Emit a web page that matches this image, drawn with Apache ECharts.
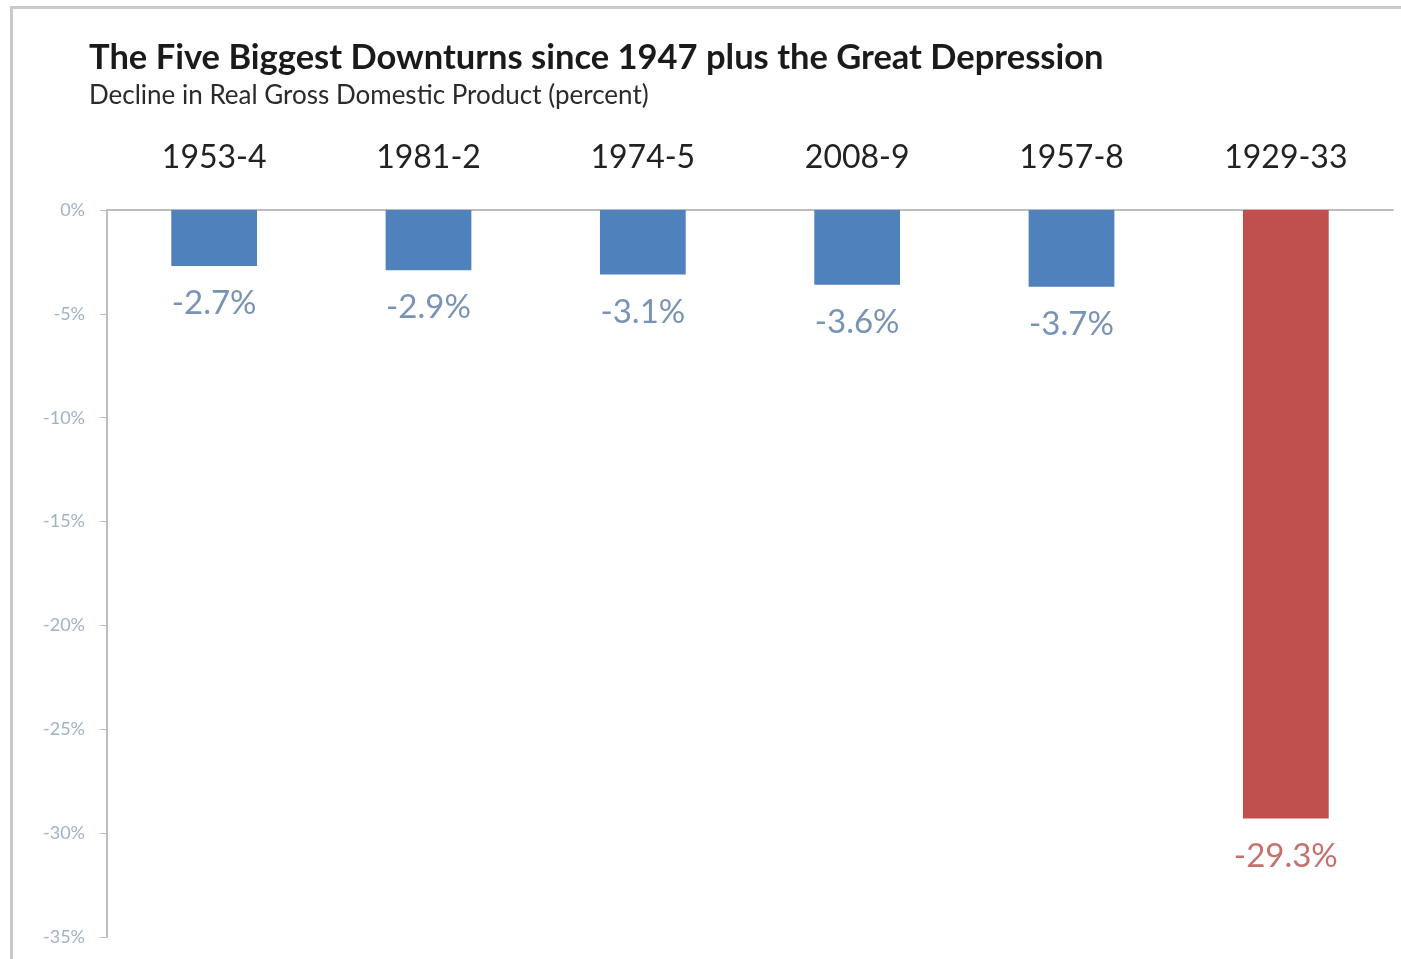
<!DOCTYPE html>
<html>
<head>
<meta charset="utf-8">
<script src="https://cdn.jsdelivr.net/npm/echarts@6/dist/echarts.min.js"></script>
<style>
  html, body { margin: 0; padding: 0; background: #fff; }
  #chart { width: 1401px; height: 959px; }
</style>
</head>
<body>
<div id="chart"></div>
<script>
// downturns, ordered as in the source
const categories = ['1953-4', '1981-2', '1974-5', '2008-9', '1957-8', '1929-33']
const declines = [-2.7, -2.9, -3.1, -3.6, -3.7, -29.3]
const depression = '1929-33'

const BLUE = '#4f81bd'
const RED = '#c0504d'

const chart = echarts.init(document.getElementById('chart'))

chart.setOption({
  animation: false,
  textStyle: { fontFamily: 'Lato' },
  graphic: [{
    type: 'rect',
    shape: { x: 11.5, y: 7.5, width: 1400, height: 960 },
    style: { fill: 'none', stroke: '#c9c9c9', lineWidth: 3 },
  }],
  title: {
    text: 'The Five Biggest Downturns since 1947 plus the Great Depression',
    subtext: 'Decline in Real Gross Domestic Product (percent)',
    left: 84,
    top: 35,
    itemGap: 8,
    textStyle: { fontFamily: 'Lato', fontWeight: 'bold', fontSize: 34.5, color: '#1a1a1a' },
    subtextStyle: { fontFamily: 'Lato', fontSize: 26, color: '#2a2a2a' },
  },
  grid: {
    left: 107,
    right: 8,
    top: 210,
    bottom: 22,
  },
  xAxis: {
    type: 'category',
    position: 'top',
    data: categories,
    axisLine: { lineStyle: { color: '#bdbdbd', width: 2 } },
    axisTick: { show: false },
    axisLabel: { fontSize: 32, color: '#222', margin: 36 },
  },
  yAxis: {
    type: 'value',
    min: -35,
    max: 0,
    interval: 5,
    splitLine: { show: false },
    axisLine: { show: true, lineStyle: { color: '#bdbdbd', width: 2 } },
    axisTick: { show: true, length: 7, lineStyle: { color: '#bdbdbd' } },
    axisLabel: { formatter: '{value}%', fontSize: 18, color: '#9fb2c8', margin: 22 },
  },
  series: [{
    type: 'bar',
    barWidth: '40%',
    data: declines.map((v, i) => {
      const red = categories[i] === depression
      return {
        value: v,
        itemStyle: { color: red ? RED : BLUE },
        label: { color: red ? '#c5716e' : '#7893b5' },
      }
    }),
    label: {
      show: true,
      position: 'bottom',
      distance: 21,
      fontSize: 33,
      formatter: p => p.value.toFixed(1) + '%',
    },
  }],
})
</script>
</body>
</html>
